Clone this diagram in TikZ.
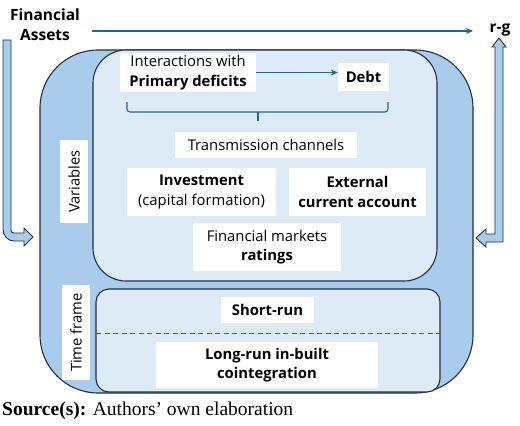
\documentclass[tikz,border=0pt]{standalone}
\usepackage{fontspec}
\setmainfont{Open Sans}
\newfontfamily\srcfont{Liberation Serif}
\usetikzlibrary{arrows.meta}
\definecolor{outerblue}{RGB}{169,203,236}
\definecolor{innerblue}{RGB}{221,235,247}
\definecolor{edgec}{RGB}{28,49,70}
\definecolor{arrowc}{RGB}{31,105,145}
\begin{document}
\begin{tikzpicture}[x=1pt,y=-1pt,
  tbox/.style={fill=white, inner sep=0pt, align=center, font=\fontsize{14.8}{19.5}\selectfont},
  lbl/.style={inner sep=0pt, align=center, font=\fontsize{15.5}{20}\selectfont\bfseries},
  conn/.style={draw=arrowc, line width=1.1pt},
  blockarrow/.style={draw=edgec, fill=outerblue, line width=0.9pt, line join=miter},
  frame/.style={draw=edgec, line width=1.1pt}]
\useasboundingbox (0,0) rectangle (520,426);
\fill[white] (0,0) rectangle (520,426);
% outer frame
\draw[frame, fill=outerblue, rounded corners=58] (40,50) rectangle (473,393);
% variables box
\draw[frame, fill=innerblue, rounded corners=33] (93,50) rectangle (437,281);
% time frame box
\draw[frame, fill=innerblue, rounded corners=13] (96,289) rectangle (440,392);
\coordinate (dl) at (96,333);
\coordinate (dr) at (440,333);
\draw[draw=arrowc, line width=1pt, dash pattern=on 5pt off 3.5pt] (dl) -- (dr);

% labels
\node[lbl] (fa) at (45,25) {Financial\\Assets};
\node[lbl] (rg) at (500,30) {r-g};
\coordinate (tas) at (92,31);
\coordinate (tae) at (473,31);
\draw[conn, -{Stealth[length=7pt,width=6pt]}] (tas) -- (tae);

% left block arrow
\draw[blockarrow] (3,40) -- (3,229) .. controls (3,235.5) and (7.5,241) .. (14,241) -- (24,241) -- (24,246) -- (33,237) -- (24,228) -- (24,233) -- (14,233) .. controls (12,233) and (11,232) .. (11,230) -- (11,40) -- cycle;
% right block arrow
\draw[blockarrow] (499,38) -- (506,47) -- (503,47) -- (503,242) -- (486,242) -- (486,247) -- (476,238) -- (486,229) -- (486,234) -- (495,234) -- (495,47) -- (492,47) -- cycle;

% side labels
\node[tbox, rotate=90, minimum width=83pt, minimum height=28pt] (var) at (74,181.5) {Variables};
\node[tbox, rotate=90, minimum width=95pt, minimum height=28pt] (tf) at (76,332.5) {Time frame};

% inner nodes
\node[tbox, minimum width=136pt, minimum height=39pt] (ia) at (188,72.5) {Interactions with\\\textbf{Primary deficits}};
\node[tbox, minimum width=51pt, minimum height=28pt] (debt) at (363.5,77) {\textbf{Debt}};
\draw[conn, -{Stealth[length=7pt,width=6pt]}] (ia.east) -- (ia.east -| debt.west);

\coordinate (b1) at (127,102);
\coordinate (b2) at (127,112);
\coordinate (b3) at (388,112);
\coordinate (b4) at (388,102);
\coordinate (bm) at (258,112);
\coordinate (bt) at (258,121);
\draw[conn, rounded corners=3] (b1) -- (b2) -- (b3) -- (b4);
\draw[conn] (bm) -- (bt);

\node[tbox, minimum width=182pt, minimum height=26pt] (tc) at (266,145) {Transmission channels};
\node[tbox, minimum width=149pt, minimum height=48pt] (inv) at (201.5,192) {\textbf{Investment}\\(capital formation)};
\node[tbox, minimum width=137pt, minimum height=48pt] (ext) at (357.5,192) {\textbf{External}\\\textbf{current account}};
\node[tbox, minimum width=148pt, minimum height=48pt] (fm) at (267,247) {Financial markets\\\textbf{ratings}};
\node[tbox, minimum width=93pt, minimum height=26pt] (sr) at (267.5,310) {\textbf{Short-run}};
\node[tbox, minimum width=222pt, minimum height=46pt] (lr) at (267,365) {\textbf{Long-run in-built}\\\textbf{cointegration}};

% source
\node[anchor=west, inner sep=0pt, font=\srcfont\fontsize{19.5}{22}\selectfont] (src) at (2,411) {\textbf{Source(s):} Authors’ own elaboration};
\end{tikzpicture}
\end{document}
